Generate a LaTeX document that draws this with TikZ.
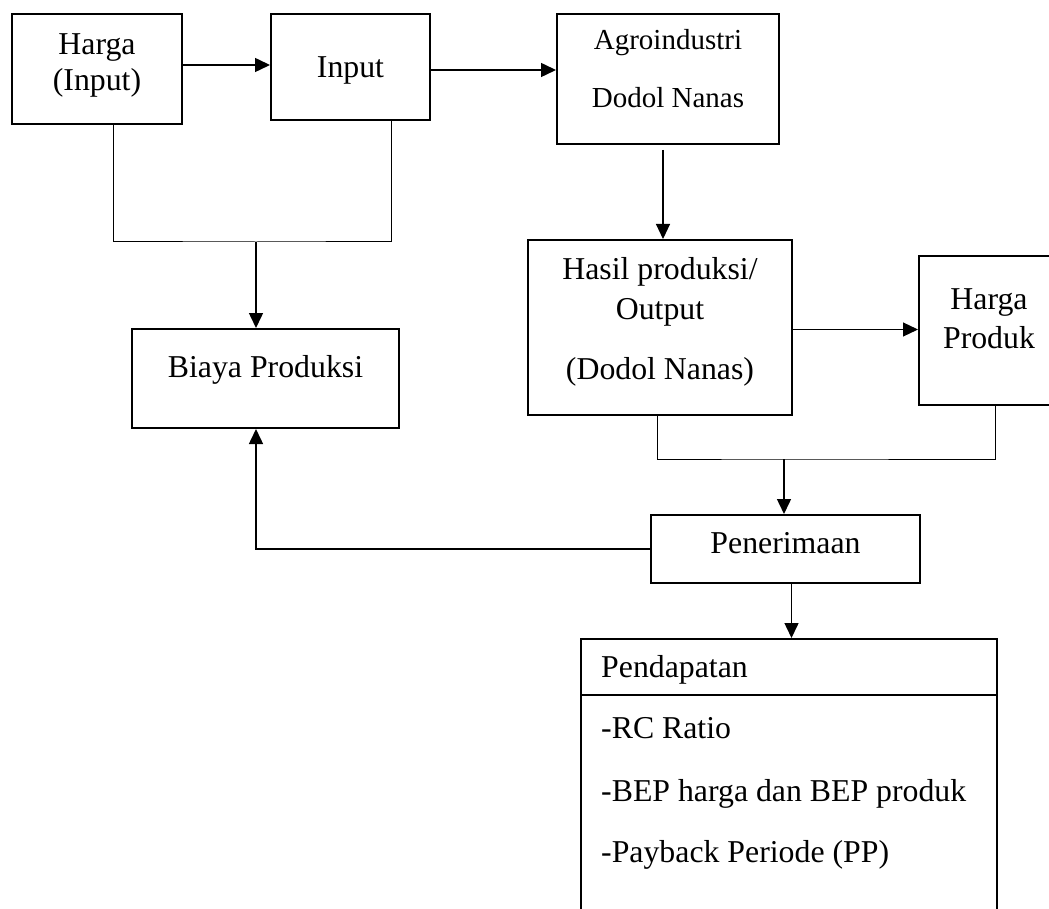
\documentclass[tikz,border=0pt]{standalone}
\usepackage{fontspec}
\setmainfont{Liberation Serif}
\usepackage{tikz}
\usetikzlibrary{arrows.meta}
\usetikzlibrary{positioning}

\tikzset{
    box/.style={draw, line width=2pt, inner sep=0pt, align=center,
        font=\fontsize{31.8}{36.6}\selectfont},
    arr/.style={line width=1.5pt, -{Triangle[length=15pt,width=14pt]}},
    thinarr/.style={line width=1.1pt, -{Triangle[length=15pt,width=14pt]}},
    thinline/.style={line width=1pt}
}

\begin{document}
\begin{tikzpicture}[x=1pt, y=-1pt]
            \useasboundingbox (0,0) rectangle (1049,909);
            \clip (0,0) rectangle (1049,909);
            \node[box, minimum width=170pt, minimum height=110pt, text height=50pt, text depth=6pt, anchor=north west] (harga) at (11,13) {Harga\\(Input)};
            \node[box, minimum width=159pt, minimum height=106pt, text height=22pt, text depth=0pt, right=87pt of harga.north east, anchor=north west] (input) {Input};
            \node[box, font=\fontsize{29}{33.4}\selectfont, minimum width=222pt, minimum height=130pt, text height=64pt, text depth=6pt, right=125pt of input.north east, anchor=north west] (agro) {Agroindustri\\[25pt]Dodol Nanas};
            \node[box, minimum width=264pt, minimum height=175pt, text height=109pt, text depth=6pt, below=94pt of agro.south west, anchor=north west, xshift=-29pt] (hasil) {Hasil produksi/\\[3.4pt]Output\\[23.4pt](Dodol Nanas)};
            \node[box, minimum width=140pt, minimum height=149pt, text height=41pt, text depth=6pt, right=125pt of hasil.north east, anchor=north west, yshift=-16pt] (hprod) {Harga\\[2.4pt]Produk};
            \node[box, minimum width=267pt, minimum height=99pt, text height=22pt, text depth=25pt, below=203pt of harga.south west, anchor=north west, xshift=120pt] (biaya) {Biaya Produksi};
            \node[box, minimum width=269pt, minimum height=68pt, text height=22pt, text depth=14pt, below=98pt of hasil.south west, anchor=north west, xshift=123pt] (pener) {Penerimaan};
            \node[box, minimum width=416pt, minimum height=330pt, below=54pt of pener.south west, anchor=north west, xshift=-70pt] (pend) {};
            \draw[line width=2pt] ([yshift=-57pt]pend.north west) -- ([yshift=-57pt]pend.north east);
            \node[font=\fontsize{31.8}{36.6}\selectfont, inner sep=0pt, anchor=base west] (pendh) at ([xshift=21pt,yshift=-39pt]pend.north west) {Pendapatan};
            \node[font=\fontsize{31.8}{36.6}\selectfont, inner sep=0pt, align=left, anchor=base west] (pendl) at ([xshift=21pt,yshift=-224pt]pend.north west) {-RC Ratio\\[26pt]-BEP harga dan BEP produk\\[24pt]-Payback Periode (PP)};
            \coordinate (j1) at (256,242);
            \coordinate (j2) at (784,459);
            \draw[arr] ([yshift=4pt]harga.east) -- ([yshift=4pt]harga.east -| input.west);
            \draw[arr] ([yshift=-3pt]input.east) -- ([yshift=-3pt]input.east -| agro.west);
            \draw[thinline] ([xshift=16pt]harga.south) |- (j1) -| ([xshift=40.5pt]input.south);
            \draw[arr] (j1) -- (j1 |- biaya.north);
            \draw[thinarr] ([xshift=-5pt,yshift=-5pt]agro.south) -- ([xshift=-5pt]agro.south |- hasil.north);
            \draw[thinarr] ([yshift=-2pt]hasil.east) -- ([yshift=-2pt]hasil.east -| hprod.west);
            \draw[thinline] ([xshift=-3pt]hasil.south) |- (j2) -| ([xshift=6pt]hprod.south);
            \draw[arr] (j2) -- (j2 |- pener.north);
            \draw[arr] (pener.west) -| (j1 |- biaya.south);
            \draw[arr] ([xshift=6pt]pener.south) -- ([xshift=6pt]pener.south |- pend.north);
\end{tikzpicture}
\end{document}
